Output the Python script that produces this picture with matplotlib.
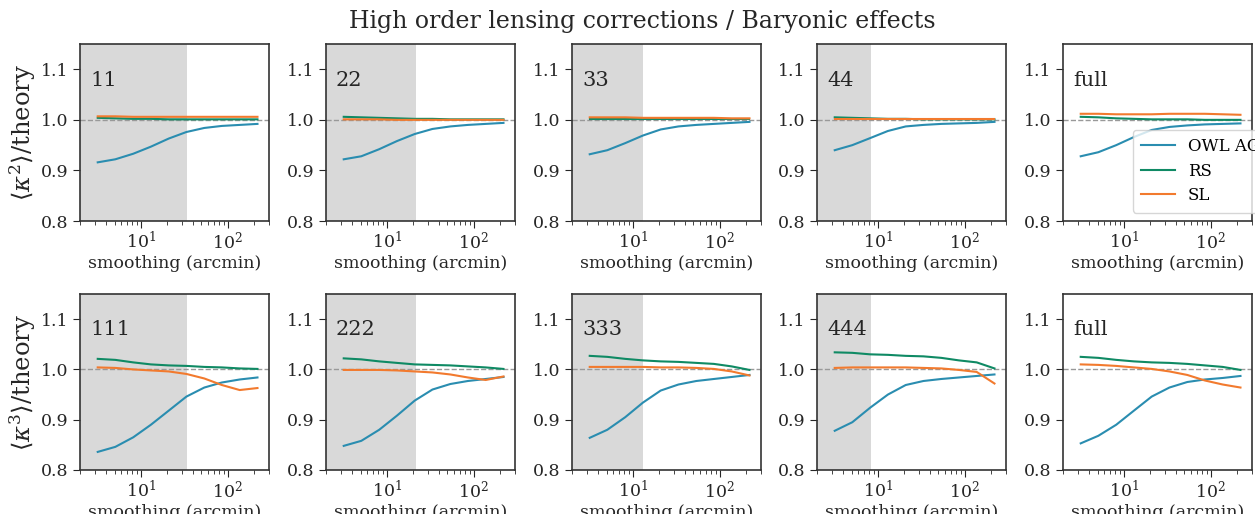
import matplotlib
matplotlib.use("Agg")
import matplotlib.pyplot as plt
import numpy as np

plt.rcParams['font.family'] = ['DejaVu Serif']
plt.rcParams['mathtext.fontset'] = 'dejavuserif'

# smoothing scales (arcmin)
scales = [3.2, 5.1, 8.2, 13.1, 21.0, 33.6, 54.0, 86.0, 138.0, 221.0]

panel_labels = ["11", "22", "33", "44", "full"]
panel_labels_3 = ["111", "222", "333", "444", "full"]
# end of the shaded region for each tomographic bin
shade_end = [34.0, 21.5, 13.3, 8.4, None]

# <kappa^2>/theory
k2_owl = [
    [0.916, 0.922, 0.933, 0.947, 0.963, 0.976, 0.984, 0.988, 0.990, 0.992],
    [0.922, 0.928, 0.942, 0.958, 0.972, 0.982, 0.987, 0.990, 0.992, 0.994],
    [0.932, 0.940, 0.954, 0.969, 0.981, 0.987, 0.990, 0.992, 0.994, 0.996],
    [0.940, 0.950, 0.964, 0.978, 0.987, 0.990, 0.992, 0.993, 0.994, 0.996],
    [0.928, 0.936, 0.950, 0.966, 0.980, 0.986, 0.989, 0.991, 0.992, 0.993],
]
k2_rs = [
    [1.004, 1.003, 1.002, 1.002, 1.001, 1.001, 1.001, 1.001, 1.001, 1.001],
    [1.006, 1.005, 1.004, 1.003, 1.002, 1.002, 1.001, 1.001, 1.001, 1.001],
    [1.002, 1.002, 1.002, 1.002, 1.002, 1.002, 1.002, 1.002, 1.002, 1.002],
    [1.005, 1.004, 1.003, 1.002, 1.002, 1.001, 1.001, 1.001, 1.001, 1.001],
    [1.006, 1.005, 1.003, 1.002, 1.001, 1.001, 1.001, 1.000, 1.000, 1.000],
]
k2_sl = [
    [1.007, 1.007, 1.006, 1.006, 1.006, 1.006, 1.006, 1.006, 1.006, 1.006],
    [1.001, 1.001, 1.001, 1.000, 1.000, 1.000, 1.000, 1.000, 1.000, 1.000],
    [1.005, 1.005, 1.005, 1.004, 1.004, 1.004, 1.004, 1.004, 1.003, 1.003],
    [1.002, 1.002, 1.002, 1.002, 1.002, 1.002, 1.002, 1.002, 1.002, 1.002],
    [1.012, 1.012, 1.011, 1.011, 1.011, 1.012, 1.012, 1.012, 1.011, 1.010],
]

# <kappa^3>/theory
k3_owl = [
    [0.836, 0.846, 0.865, 0.890, 0.918, 0.946, 0.964, 0.974, 0.980, 0.984],
    [0.848, 0.858, 0.880, 0.908, 0.938, 0.960, 0.971, 0.977, 0.981, 0.985],
    [0.864, 0.880, 0.905, 0.934, 0.958, 0.970, 0.977, 0.981, 0.985, 0.989],
    [0.878, 0.895, 0.924, 0.950, 0.969, 0.977, 0.981, 0.984, 0.987, 0.990],
    [0.853, 0.868, 0.890, 0.918, 0.946, 0.964, 0.975, 0.980, 0.983, 0.987],
]
k3_rs = [
    [1.021, 1.019, 1.014, 1.010, 1.008, 1.007, 1.005, 1.004, 1.002, 1.001],
    [1.022, 1.020, 1.016, 1.013, 1.010, 1.009, 1.008, 1.006, 1.004, 1.001],
    [1.027, 1.025, 1.021, 1.018, 1.016, 1.015, 1.013, 1.011, 1.006, 0.999],
    [1.034, 1.033, 1.030, 1.029, 1.027, 1.026, 1.023, 1.018, 1.014, 1.002],
    [1.025, 1.023, 1.019, 1.016, 1.014, 1.013, 1.011, 1.008, 1.005, 0.999],
]
k3_sl = [
    [1.004, 1.003, 1.000, 0.998, 0.996, 0.991, 0.982, 0.969, 0.959, 0.963],
    [0.999, 0.999, 0.999, 0.998, 0.996, 0.994, 0.990, 0.984, 0.979, 0.986],
    [1.005, 1.005, 1.005, 1.005, 1.004, 1.004, 1.003, 1.001, 0.996, 0.988],
    [1.003, 1.004, 1.004, 1.004, 1.004, 1.003, 1.002, 0.999, 0.995, 0.972],
    [1.010, 1.009, 1.007, 1.004, 1.001, 0.996, 0.989, 0.978, 0.970, 0.964],
]

c_owl = "#2a8db0"
c_rs = "#0f8a64"
c_sl = "#f27a2e"

W, H = 1255, 514
fig = plt.figure(figsize=(W / 100, H / 100), dpi=100)

lefts = [80, 326, 572, 817, 1063]
ax_w = 189
rows = [(44, 221), (294, 470)]

for r, (top, bot) in enumerate(rows):
    for c in range(5):
        ax = fig.add_axes([lefts[c] / W, 1 - bot / H, ax_w / W, (bot - top) / H])
        if r == 0:
            owl, rs, sl, lab = k2_owl[c], k2_rs[c], k2_sl[c], panel_labels[c]
        else:
            owl, rs, sl, lab = k3_owl[c], k3_rs[c], k3_sl[c], panel_labels_3[c]
        ax.plot(scales, owl, color=c_owl, lw=1.5, label="OWL AGN")
        ax.plot(scales, rs, color=c_rs, lw=1.5, label="RS")
        ax.plot(scales, sl, color=c_sl, lw=1.5, label="SL")
        ax.axhline(1.0, color="#999999", ls="--", lw=1.0, zorder=0)
        ax.set_xscale("log")
        ax.set_xlim(2.0, 300)
        ax.set_ylim(0.8, 1.15)
        ax.set_yticks([0.8, 0.9, 1.0, 1.1])
        if shade_end[c] is not None:
            ax.axvspan(1.0, shade_end[c], color="#d9d9d9", lw=0, zorder=-1)
        ax.text(0.053, 0.765, lab, transform=ax.transAxes, fontsize=15, color="#262626")
        ax.set_xlabel("smoothing (arcmin)", fontsize=12.5, color="#262626", labelpad=1.5)
        ax.tick_params(labelsize=12.5, colors="#262626", direction="out", length=5)
        ax.tick_params(axis="x", pad=2)
        ax.tick_params(which="minor", length=3, colors="#262626")
        for sp in ax.spines.values():
            sp.set_color("#333333")
            sp.set_linewidth(1.2)
        if c == 0:
            ylab = r"$\langle\kappa^2\rangle$/theory" if r == 0 else r"$\langle\kappa^3\rangle$/theory"
            ax.set_ylabel(ylab, fontsize=17.5, color="#262626")
            ax.yaxis.set_label_coords(-0.22, 0.5)
        if r == 0 and c == 4:
            ax.legend(loc="upper left", bbox_to_anchor=(0.37, 0.515), fontsize=12,
                      frameon=True, framealpha=0.8, edgecolor="#cccccc",
                      borderaxespad=0, handlelength=2.0, borderpad=0.5,
                      labelspacing=0.45)

fig.text(0.512, 0.958, "High order lensing corrections / Baryonic effects",
         ha="center", va="center", fontsize=17, color="#262626")

fig.savefig("out.png", dpi=100)
